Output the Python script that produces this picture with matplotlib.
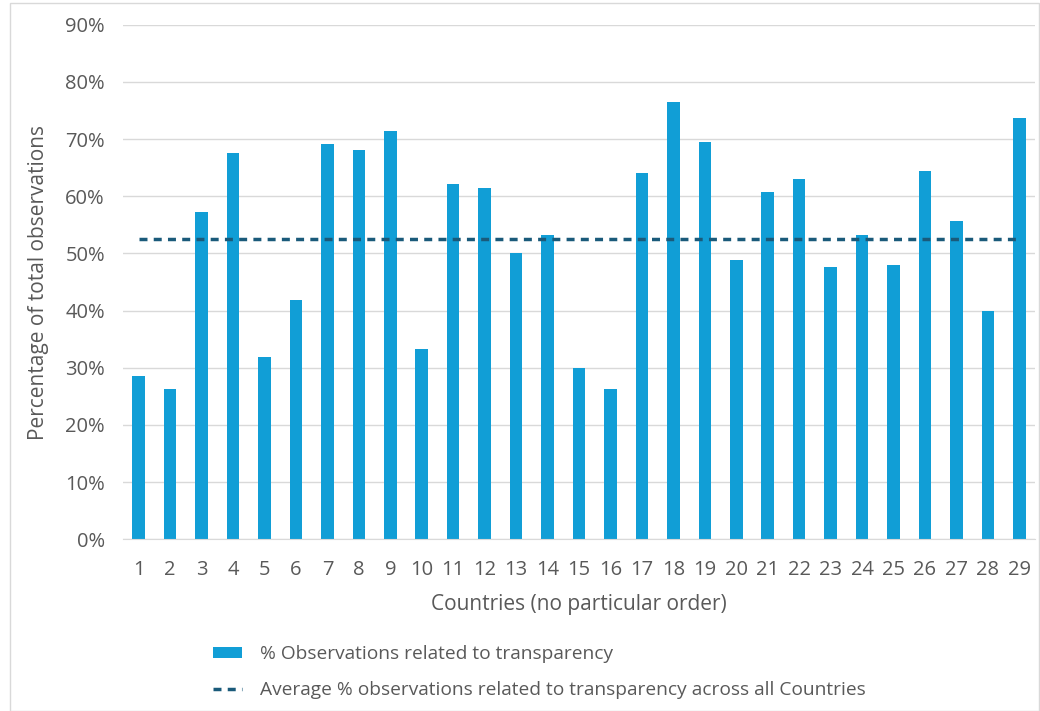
import matplotlib
matplotlib.use("Agg")
import matplotlib.pyplot as plt
from matplotlib.ticker import PercentFormatter
from matplotlib.patches import Patch
from matplotlib.lines import Line2D

countries = [str(i) for i in range(1, 30)]
values = [28.6, 26.2, 57.2, 67.5, 31.9, 41.8, 69.1, 68.1, 71.4, 33.3,
          62.1, 61.5, 50.0, 53.3, 30.0, 26.3, 64.0, 76.5, 69.5, 48.8,
          60.7, 63.0, 47.7, 53.3, 47.9, 64.4, 55.6, 39.9, 73.7]
average = 52.5
avg_values = [average] * len(countries)

bar_label = "% Observations related to transparency"
avg_label = "Average % observations related to transparency across all Countries"
xlabel = "Countries (no particular order)"
ylabel = "Percentage of total observations"

plt.rcParams['font.family'] = ['Open Sans', 'DejaVu Sans']
text_color = "#595959"
bar_color = "#119ED6"
line_color = "#1A5A7A"
dash = (0, (2.3, 1.8))

fig = plt.figure(figsize=(10.4, 7.11), dpi=100)
ax = fig.add_axes([123/1040, 1 - 539.3/711, (1035-123)/1040, (539.3-24.7)/711])

x = list(range(len(countries)))
ax.bar(x, values, width=0.40, color=bar_color, zorder=2)
ax.plot(x, avg_values, color=line_color, linestyle=dash, linewidth=2.5, zorder=3)

ax.set_xlim(-0.5, len(countries) - 0.5)
ax.set_ylim(0, 90)
ax.set_yticks(range(0, 91, 10))
ax.yaxis.set_major_formatter(PercentFormatter(decimals=0))
ax.set_xticks(x)
ax.set_xticklabels(countries)
ax.grid(axis='y', color="#D9D9D9", linewidth=1, zorder=0)
ax.set_axisbelow(True)
for s in ['top', 'right', 'left']:
    ax.spines[s].set_visible(False)
ax.spines['bottom'].set_color("#D9D9D9")
ax.tick_params(axis='both', length=0, labelsize=14.5, colors=text_color)
ax.tick_params(axis='x', pad=15)
ax.tick_params(axis='y', pad=13)
ax.set_xlabel(xlabel, fontsize=15, color=text_color, labelpad=10)
ax.set_ylabel(ylabel, fontsize=15, color=text_color, labelpad=12)

handles = [Patch(facecolor=bar_color, edgecolor='none'),
           Line2D([0], [0], color=line_color, linestyle=dash, linewidth=2.5)]
leg = fig.legend(handles, [bar_label, avg_label], loc='upper left',
                 bbox_to_anchor=(196/1040, 1 - 628/711), frameon=False,
                 fontsize=13.8, labelcolor=text_color, handlelength=1.5,
                 handleheight=0.5, handletextpad=0.95, labelspacing=0.95)

# outer chart border
border = plt.Rectangle((10/1040, 0.0), (1035-10)/1040 + 4/1040, 1 - 3/711,
                       transform=fig.transFigure, fill=False, edgecolor="#D9D9D9",
                       linewidth=1)
fig.patches.append(border)

fig.savefig("out.png", dpi=100)
